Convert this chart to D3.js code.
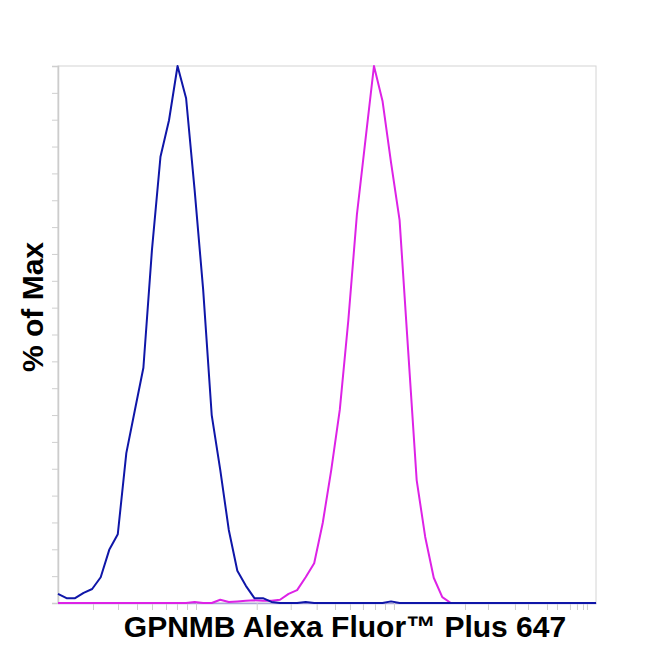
<!DOCTYPE html>
<html>
<head>
<meta charset="utf-8">
<script src="https://cdn.jsdelivr.net/npm/d3@7"></script>
<style>
  body { margin: 0; background: #fff; }
</style>
</head>
<body>
<script>
// Histogram bins (display channels 0..63), values in % of max
const bins = d3.range(64);

const blueValues = [
  1.7, 0.9, 0.9, 1.9, 2.6, 4.8, 9.9, 12.8, 27.9, 35.9,
  43.8, 65.7, 83.1, 89.9, 100, 94.0, 76.9, 58.3, 35.0, 24.8,
  13.6, 6.0, 3.2, 0.9, 0.9, 0.2, 0, 0, 0, 0.2,
  0, 0, 0, 0, 0, 0, 0, 0, 0, 0.3,
  0, 0, 0, 0, 0, 0, 0, 0, 0, 0,
  0, 0, 0, 0, 0, 0, 0, 0, 0, 0,
  0, 0, 0, 0
];

const magentaValues = [
  0, 0, 0, 0, 0, 0, 0, 0, 0, 0,
  0, 0, 0, 0, 0, 0, 0.2, 0, 0, 0.6,
  0.2, 0.3, 0.4, 0.5, 0.4, 0.4, 0.6, 1.7, 2.4, 4.8,
  7.4, 14.9, 24.8, 36.0, 52.7, 72.3, 86.2, 100, 93.5, 82.0,
  71.3, 47.1, 22.9, 12.3, 4.7, 1.1, 0, 0, 0, 0,
  0, 0, 0, 0, 0, 0, 0, 0, 0, 0,
  0, 0, 0, 0
];

// Axis tick positions (channel units)
const xTickChannels = [
  4.10, 7.03, 9.25, 11.01, 12.65, 13.93, 15.11, 16.16,
  23.27, 27.25, 30.29, 32.44, 34.19, 35.71, 37.12, 38.29, 39.34,
  47.66, 50.35, 53.51, 55.04, 57.26, 58.43, 59.95, 60.77, 61.48, 61.94
];
const yTickValues = d3.range(0, 101, 5);

const xLabel = "GPNMB Alexa Fluor™ Plus 647";
const yLabel = "% of Max";

const width = 650, height = 650;
const margin = { top: 66, right: 54, bottom: 47, left: 58 };

const svg = d3.select("body").append("svg")
  .attr("width", width)
  .attr("height", height);

const x = d3.scaleLinear()
  .domain([0, 63])
  .range([margin.left, width - margin.right]);

const y = d3.scaleLinear()
  .domain([0, 100])
  .range([height - margin.bottom, margin.top]);

// Frame (top and right)
svg.append("rect")
  .attr("x", x(0))
  .attr("y", y(100))
  .attr("width", x(63) - x(0))
  .attr("height", y(0) - y(100))
  .attr("fill", "none")
  .attr("stroke", "#d4d4d4")
  .attr("stroke-width", 1);

// Y axis with minor ticks, no labels
const yAxis = d3.axisLeft(y)
  .tickValues(yTickValues)
  .tickSize(6)
  .tickFormat("");
const gy = svg.append("g")
  .attr("transform", `translate(${x(0)},0)`)
  .call(yAxis);
gy.select(".domain").attr("stroke", "#cccccc").attr("stroke-width", 1.5);
gy.selectAll(".tick line").attr("stroke", "#cfcfcf");

// X axis ticks
const xAxis = d3.axisBottom(x)
  .tickValues(xTickChannels)
  .tickSize(7)
  .tickSizeOuter(0)
  .tickFormat("");
const gx = svg.append("g")
  .attr("transform", `translate(0,${y(0)})`)
  .call(xAxis);
gx.select(".domain").attr("stroke", "#a9a4d8").attr("stroke-width", 1.5);
gx.selectAll(".tick line").attr("stroke", "#cfcfcf");

// Histogram lines
const line = d3.line()
  .x((d, i) => x(bins[i]))
  .y(d => y(d));

svg.append("path")
  .datum(magentaValues)
  .attr("fill", "none")
  .attr("stroke", "#dd22e6")
  .attr("stroke-width", 2)
  .attr("stroke-linejoin", "round")
  .attr("d", line);

svg.append("path")
  .datum(blueValues)
  .attr("fill", "none")
  .attr("stroke", "#0f16a8")
  .attr("stroke-width", 2)
  .attr("stroke-linejoin", "round")
  .attr("d", line);

// Axis titles
svg.append("text")
  .attr("x", 345)
  .attr("y", 637)
  .attr("text-anchor", "middle")
  .attr("font-family", "Liberation Sans, Arial, sans-serif")
  .attr("font-weight", "bold")
  .attr("font-size", 30)
  .attr("fill", "#000")
  .text(xLabel);

svg.append("text")
  .attr("transform", "translate(43,307) rotate(-90)")
  .attr("text-anchor", "middle")
  .attr("font-family", "Liberation Sans, Arial, sans-serif")
  .attr("font-weight", "bold")
  .attr("font-size", 30)
  .attr("fill", "#000")
  .text(yLabel);
</script>
</body>
</html>
